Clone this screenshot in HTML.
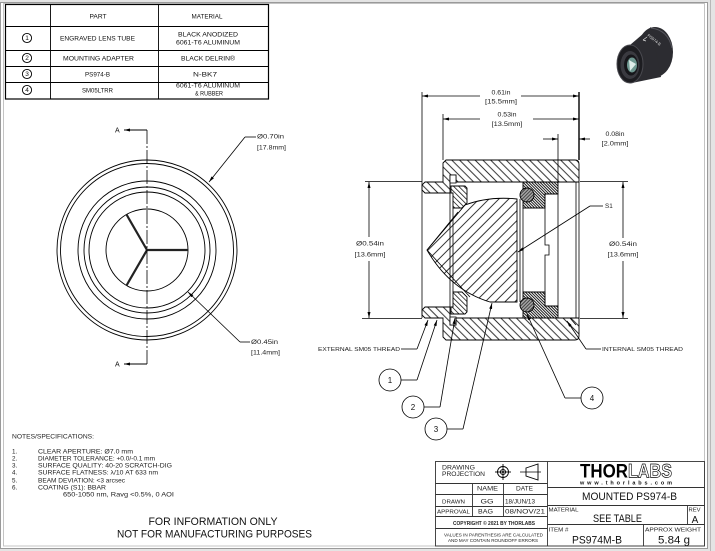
<!DOCTYPE html>
<html><head><meta charset="utf-8">
<style>html,body{margin:0;padding:0;background:#e4e4e4;}svg{display:block}</style></head>
<body>
<svg width="715" height="551" viewBox="0 0 715 551" xmlns="http://www.w3.org/2000/svg" font-family="'Liberation Sans', sans-serif">
<defs>
 <pattern id="hA" width="5.5" height="5.5" patternUnits="userSpaceOnUse" patternTransform="rotate(-45)"><line x1="2.75" y1="0" x2="2.75" y2="5.5" stroke="#000" stroke-width="0.8"/></pattern>
 <pattern id="hL" width="7" height="7" patternUnits="userSpaceOnUse" patternTransform="rotate(45)"><line x1="3.5" y1="0" x2="3.5" y2="7" stroke="#000" stroke-width="0.8"/></pattern>
 <pattern id="hP" width="3.6" height="3.6" patternUnits="userSpaceOnUse" patternTransform="rotate(-45)"><line x1="1.8" y1="0" x2="1.8" y2="3.6" stroke="#000" stroke-width="0.7"/></pattern>
 <pattern id="hR" width="2" height="2" patternUnits="userSpaceOnUse" patternTransform="rotate(-45)"><rect width="2" height="2" fill="#fff"/><line x1="1" y1="0" x2="1" y2="2" stroke="#000" stroke-width="0.9"/></pattern>
 <pattern id="hO" width="2.4" height="2.4" patternUnits="userSpaceOnUse" patternTransform="rotate(45)"><rect width="2.4" height="2.4" fill="#aaa"/><line x1="1.2" y1="0" x2="1.2" y2="2.4" stroke="#222" stroke-width="0.8"/></pattern>
 <marker id="ar" viewBox="0 0 8 4" refX="8" refY="2" markerWidth="7" markerHeight="3" markerUnits="userSpaceOnUse" orient="auto"><path d="M0,0 L8,2 L0,4 Z" fill="#000"/></marker>
</defs>

<!-- page frame -->
<rect x="0.5" y="2.5" width="707" height="546" fill="#fff" stroke="#9a9a9a"/>
<rect x="3.5" y="3.5" width="701" height="542.5" fill="none" stroke="#c4c4c4"/>
<line x1="710.5" y1="0" x2="710.5" y2="551" stroke="#b8b8b8"/>

<!-- parts table -->
<g fill="none" stroke="#000" stroke-width="0.9">
 <rect x="5.5" y="4.5" width="263" height="94.5" stroke-width="1.2"/>
 <line x1="50.5" y1="4.5" x2="50.5" y2="99"/>
 <line x1="158.5" y1="4.5" x2="158.5" y2="99"/>
 <line x1="5.5" y1="26.5" x2="268.5" y2="26.5"/>
 <line x1="5.5" y1="50.5" x2="268.5" y2="50.5"/>
 <line x1="5.5" y1="66.5" x2="268.5" y2="66.5"/>
 <line x1="5.5" y1="82.5" x2="268.5" y2="82.5"/>
 <circle cx="27" cy="38" r="4.6"/><circle cx="27" cy="58" r="4.6"/><circle cx="27" cy="74" r="4.6"/><circle cx="27" cy="90" r="4.6"/>
</g>
<g font-size="6" fill="#111" text-anchor="middle">
 <text x="27" y="40.2" font-size="6.5">1</text><text x="27" y="60.2" font-size="6.5">2</text><text x="27" y="76.2" font-size="6.5">3</text><text x="27" y="92.2" font-size="6.5">4</text>
 <text x="98" y="18.5" textLength="17" lengthAdjust="spacingAndGlyphs">PART</text>
 <text x="207" y="18.5" textLength="31" lengthAdjust="spacingAndGlyphs">MATERIAL</text>
 <text x="97.5" y="40.5" textLength="75" lengthAdjust="spacingAndGlyphs">ENGRAVED LENS TUBE</text>
 <text x="208" y="36.5" textLength="60" lengthAdjust="spacingAndGlyphs">BLACK ANODIZED</text>
 <text x="208" y="44.5" textLength="64" lengthAdjust="spacingAndGlyphs">6061-T6 ALUMINUM</text>
 <text x="98.5" y="60.5" textLength="71" lengthAdjust="spacingAndGlyphs">MOUNTING ADAPTER</text>
 <text x="208" y="60.5" textLength="54" lengthAdjust="spacingAndGlyphs">BLACK DELRIN®</text>
 <text x="97.5" y="76.5" textLength="25" lengthAdjust="spacingAndGlyphs">PS974-B</text>
 <text x="205" y="76.5" textLength="24" lengthAdjust="spacingAndGlyphs">N-BK7</text>
 <text x="97.5" y="92.5" textLength="31" lengthAdjust="spacingAndGlyphs">SM05LTRR</text>
 <text x="208" y="87.5" textLength="64" lengthAdjust="spacingAndGlyphs">6061-T6 ALUMINUM</text>
 <text x="209" y="95.5" textLength="28" lengthAdjust="spacingAndGlyphs">&amp; RUBBER</text>
</g>

<!-- product photo -->
<g>
 <ellipse cx="655" cy="52" rx="18" ry="25" fill="#2c2c31"/>
 <polygon points="630,45 651,27 661,77 632,83" fill="#2c2c31"/>
 <path d="M651,28 Q668,30 672,48" fill="none" stroke="#55555c" stroke-width="1"/>
 <ellipse cx="630" cy="64" rx="13" ry="19" fill="#1d1d21" stroke="#4a4a50" stroke-width="1"/>
 <ellipse cx="630" cy="65" rx="9.5" ry="14" fill="#3a3a40"/>
 <ellipse cx="631" cy="65" rx="7" ry="10.5" fill="#16161a"/>
 <ellipse cx="632" cy="65" rx="5" ry="7.5" fill="#6f9891"/>
 <polygon points="629,60 636,64 630,71" fill="#dfeeea"/>
 <text x="647" y="36" font-size="4" fill="#ddd" transform="rotate(38 647 36)">PS974-B</text>
 <path d="M643,40 l4,-3 M643,40 l3,1" stroke="#ddd" stroke-width="0.7" fill="none"/>
</g>

<!-- front view -->
<g fill="none" stroke="#000" stroke-width="0.9">
 <circle cx="147" cy="250" r="90"/>
 <circle cx="147" cy="250" r="86.5"/>
 <circle cx="147" cy="250" r="69"/>
 <circle cx="147" cy="250" r="63"/>
 <circle cx="147" cy="250" r="58"/>
 <circle cx="147" cy="250" r="41"/>
</g>
<g stroke="#222" stroke-width="2.2">
 <line x1="147" y1="250" x2="188" y2="250"/>
 <line x1="147" y1="250" x2="126.5" y2="214.5"/>
 <line x1="147" y1="250" x2="126.5" y2="285.5"/>
</g>
<line x1="147" y1="130" x2="147" y2="364" stroke="#000" stroke-width="0.8" stroke-dasharray="14,2,2,2"/>
<line x1="147" y1="130" x2="124" y2="130" stroke="#000" stroke-width="0.9" marker-end="url(#ar)"/>
<line x1="147" y1="364" x2="124" y2="364" stroke="#000" stroke-width="0.9" marker-end="url(#ar)"/>
<text x="115" y="132.5" font-size="7" fill="#111">A</text>
<text x="115" y="366.5" font-size="7" fill="#111">A</text>
<g stroke="#000" stroke-width="0.8" fill="none">
 <line x1="245" y1="137" x2="256" y2="137"/>
 <line x1="245" y1="137" x2="209" y2="182" marker-end="url(#ar)"/>
 <line x1="240" y1="342" x2="250" y2="342"/>
 <line x1="240" y1="342" x2="188" y2="292" marker-end="url(#ar)"/>
</g>
<g font-size="6.3" fill="#222">
 <text x="257" y="138.5" textLength="27" lengthAdjust="spacingAndGlyphs">Ø0.70in</text>
 <text x="257" y="149.5" textLength="29" lengthAdjust="spacingAndGlyphs">[17.8mm]</text>
 <text x="251" y="344" textLength="27" lengthAdjust="spacingAndGlyphs">Ø0.45in</text>
 <text x="251" y="354.5" textLength="29" lengthAdjust="spacingAndGlyphs">[11.4mm]</text>
</g>

<!-- section view: hatched parts -->
<g stroke="#000" stroke-width="0.9">
 <path fill="url(#hA)" d="M443,163 L446,160 L575,160 Q579,160 579,164 L579,182 L456,182 L456,175 L450,175 L450,193 L425,193 L422,190 L422,185 L425,182 L443,182 Z"/>
 <path fill="url(#hA)" d="M443,337 L446,340 L575,340 Q579,340 579,336 L579,318 L456,318 L456,325 L450,325 L450,307 L425,307 L422,310 L422,315 L425,318 L443,318 Z"/>
 <path fill="url(#hP)" d="M451,186 L465,186 L467,188 L467,203 L462,208 L453,208 L453,193 L451,193 Z"/>
 <path fill="url(#hP)" d="M451,314 L465,314 L467,312 L467,297 L462,292 L453,292 L453,307 L451,307 Z"/>
 <path fill="url(#hL)" d="M427,250 L465,205 Q489,196 517,199 L517,302 L490,302 Q450,290 427,250 Z"/>
 <path fill="url(#hR)" d="M523,182 L558,182 L558,194 L545,194 L545,208 L523,208 Z"/>
 <path fill="url(#hR)" d="M523,318 L558,318 L558,306 L545,306 L545,292 L523,292 Z"/>
 <circle cx="527" cy="195" r="7" fill="url(#hO)"/>
 <circle cx="527" cy="305" r="7" fill="url(#hO)"/>
</g>
<g stroke="#000" stroke-width="0.8" fill="none">
 <rect x="450" y="175" width="6" height="8" fill="#fff"/>
 <rect x="450" y="317" width="6" height="8" fill="#fff"/>
 <line x1="427" y1="250" x2="470" y2="297"/>
 <line x1="427" y1="250" x2="458" y2="212"/>
 <line x1="450" y1="193" x2="450" y2="307"/>
 <line x1="453" y1="208" x2="453" y2="292"/>
 <line x1="520" y1="199" x2="520" y2="302"/>
 <line x1="523" y1="208" x2="523" y2="292"/>
 <path d="M545,194 V245 H549 V255 H545 V306"/>
 <line x1="558" y1="194" x2="558" y2="306"/>
 <line x1="576" y1="182" x2="576" y2="318"/>
 <line x1="579" y1="182" x2="579" y2="318"/>
 <line x1="570" y1="318" x2="576" y2="325"/>
 <!-- extension lines -->
 <line x1="422" y1="92" x2="422" y2="318"/>
 <line x1="443" y1="114" x2="443" y2="160"/>
 <line x1="579" y1="92" x2="579" y2="160" stroke-width="1.4"/>
 <line x1="558" y1="134" x2="558" y2="182"/>
 <line x1="365" y1="181.5" x2="422" y2="181.5"/>
 <line x1="362" y1="318.5" x2="422" y2="318.5"/>
 <line x1="580" y1="181.5" x2="628" y2="181.5"/>
 <line x1="580" y1="318.5" x2="628" y2="318.5"/>
 <!-- dimension lines -->
 <line x1="480" y1="96" x2="422" y2="96" marker-end="url(#ar)"/>
 <line x1="521" y1="96" x2="579" y2="96" marker-end="url(#ar)"/>
 <line x1="480" y1="119" x2="443" y2="119" marker-end="url(#ar)"/>
 <line x1="533" y1="119" x2="579" y2="119" marker-end="url(#ar)"/>
 <line x1="543" y1="139" x2="558" y2="139" marker-end="url(#ar)"/>
 <line x1="590" y1="139" x2="579" y2="139" marker-end="url(#ar)"/>
 <line x1="369" y1="237" x2="369" y2="182" marker-end="url(#ar)"/>
 <line x1="369" y1="261" x2="369" y2="318" marker-end="url(#ar)"/>
 <line x1="623" y1="238" x2="623" y2="182" marker-end="url(#ar)"/>
 <line x1="623" y1="261" x2="623" y2="318" marker-end="url(#ar)"/>
 <!-- S1 leader -->
 <line x1="590" y1="206" x2="603" y2="206"/>
 <line x1="590" y1="206" x2="518" y2="252" marker-end="url(#ar)"/>
 <!-- thread leaders -->
 <line x1="401" y1="349" x2="417" y2="349"/>
 <line x1="417" y1="349" x2="428" y2="320" marker-end="url(#ar)"/>
 <line x1="586" y1="349" x2="601" y2="349"/>
 <line x1="586" y1="349" x2="567" y2="321" marker-end="url(#ar)"/>
 <!-- balloons -->
 <circle cx="390" cy="380" r="11"/>
 <line x1="401" y1="380" x2="417" y2="380"/>
 <line x1="417" y1="380" x2="437" y2="320" marker-end="url(#ar)"/>
 <circle cx="413" cy="407" r="11"/>
 <line x1="424" y1="407" x2="440" y2="407"/>
 <line x1="440" y1="407" x2="455" y2="318" marker-end="url(#ar)"/>
 <circle cx="436" cy="429" r="11"/>
 <line x1="447" y1="429" x2="463" y2="429"/>
 <line x1="463" y1="429" x2="492" y2="303" marker-end="url(#ar)"/>
 <circle cx="592" cy="398" r="11"/>
 <line x1="581" y1="398" x2="565" y2="398"/>
 <line x1="565" y1="398" x2="527" y2="314" marker-end="url(#ar)"/>
</g>
<g font-size="6.3" fill="#222" text-anchor="middle">
 <text x="501" y="94.5" textLength="19" lengthAdjust="spacingAndGlyphs">0.61in</text>
 <text x="501" y="103.5" textLength="32" lengthAdjust="spacingAndGlyphs">[15.5mm]</text>
 <text x="507" y="116.5" textLength="19" lengthAdjust="spacingAndGlyphs">0.53in</text>
 <text x="507" y="126" textLength="31" lengthAdjust="spacingAndGlyphs">[13.5mm]</text>
 <text x="615" y="136" textLength="19" lengthAdjust="spacingAndGlyphs">0.08in</text>
 <text x="615" y="145.5" textLength="27" lengthAdjust="spacingAndGlyphs">[2.0mm]</text>
 <text x="370" y="245.5" textLength="28" lengthAdjust="spacingAndGlyphs">Ø0.54in</text>
 <text x="370" y="256.5" textLength="31" lengthAdjust="spacingAndGlyphs">[13.6mm]</text>
 <text x="623" y="246" textLength="28" lengthAdjust="spacingAndGlyphs">Ø0.54in</text>
 <text x="623" y="256.5" textLength="31" lengthAdjust="spacingAndGlyphs">[13.6mm]</text>
</g>
<text x="605" y="208.2" font-size="6.3" fill="#222">S1</text>
<g font-size="5.6" fill="#222">
 <text x="318" y="351" textLength="82" lengthAdjust="spacingAndGlyphs">EXTERNAL SM05 THREAD</text>
 <text x="602" y="351" textLength="81" lengthAdjust="spacingAndGlyphs">INTERNAL SM05 THREAD</text>
</g>
<g font-size="8" fill="#111" text-anchor="middle">
 <text x="390" y="383">1</text><text x="413" y="410">2</text><text x="436" y="432">3</text><text x="592" y="401">4</text>
</g>

<!-- notes -->
<g font-size="6.3" fill="#222">
 <text x="12" y="438.5" textLength="82" lengthAdjust="spacingAndGlyphs">NOTES/SPECIFICATIONS:</text>
 <text x="12" y="453.5">1.</text><text x="38" y="453.5" textLength="95" lengthAdjust="spacingAndGlyphs">CLEAR APERTURE: Ø7.0 mm</text>
 <text x="12" y="460.5">2.</text><text x="38" y="460.5" textLength="117" lengthAdjust="spacingAndGlyphs">DIAMETER TOLERANCE: +0.0/-0.1 mm</text>
 <text x="12" y="467.5">3.</text><text x="38" y="467.5" textLength="134" lengthAdjust="spacingAndGlyphs">SURFACE QUALITY: 40-20 SCRATCH-DIG</text>
 <text x="12" y="474.5">4.</text><text x="38" y="474.5" textLength="120" lengthAdjust="spacingAndGlyphs">SURFACE FLATNESS: λ/10 AT 633 nm</text>
 <text x="12" y="482.5">5.</text><text x="38" y="482.5" textLength="87" lengthAdjust="spacingAndGlyphs">BEAM DEVIATION: &lt;3 arcsec</text>
 <text x="12" y="489.5">6.</text><text x="38" y="489.5" textLength="68" lengthAdjust="spacingAndGlyphs">COATING (S1): BBAR</text>
 <text x="63" y="496.5" textLength="111" lengthAdjust="spacingAndGlyphs">650-1050 nm, Ravg &lt;0.5%, 0 AOI</text>
</g>
<g font-size="11" fill="#111" text-anchor="middle">
 <text x="213" y="525" textLength="129" lengthAdjust="spacingAndGlyphs">FOR INFORMATION ONLY</text>
 <text x="214.5" y="537.5" textLength="195" lengthAdjust="spacingAndGlyphs">NOT FOR MANUFACTURING PURPOSES</text>
</g>

<!-- title block -->
<g fill="none" stroke="#333" stroke-width="0.9">
 <rect x="435.5" y="461.5" width="269" height="84.5"/>
 <line x1="547.5" y1="461.5" x2="547.5" y2="546"/>
 <line x1="435.5" y1="483.5" x2="547.5" y2="483.5"/>
 <line x1="435.5" y1="494.5" x2="547.5" y2="494.5"/>
 <line x1="435.5" y1="506.5" x2="547.5" y2="506.5"/>
 <line x1="435.5" y1="516.5" x2="547.5" y2="516.5"/>
 <line x1="435.5" y1="528.5" x2="547.5" y2="528.5"/>
 <line x1="472.5" y1="483.5" x2="472.5" y2="516.5"/>
 <line x1="503.5" y1="483.5" x2="503.5" y2="516.5"/>
 <line x1="547.5" y1="487.5" x2="704.5" y2="487.5"/>
 <line x1="547.5" y1="505.5" x2="704.5" y2="505.5"/>
 <line x1="547.5" y1="524.5" x2="704.5" y2="524.5"/>
 <line x1="687.5" y1="505.5" x2="687.5" y2="524.5"/>
 <line x1="643.5" y1="524.5" x2="643.5" y2="546"/>
 <!-- projection symbol -->
 <circle cx="503" cy="472" r="5.5" stroke="#000"/>
 <circle cx="503" cy="472" r="2.6" stroke="#000"/>
 <line x1="495" y1="472" x2="511" y2="472" stroke="#000"/>
 <line x1="503" y1="464" x2="503" y2="480" stroke="#000"/>
 <path d="M526,468 L538,464 L538,480 L526,476 Z" stroke="#000"/>
 <line x1="520" y1="472" x2="541" y2="472" stroke="#000" stroke-width="0.7"/>
</g>
<circle cx="503" cy="472" r="1" fill="#000"/>
<g font-size="6" fill="#222">
 <text x="442" y="469.5" textLength="33" lengthAdjust="spacingAndGlyphs">DRAWING</text>
 <text x="442" y="475.8" textLength="43" lengthAdjust="spacingAndGlyphs">PROJECTION</text>
 <text x="487.5" y="490.5" text-anchor="middle" textLength="21" lengthAdjust="spacingAndGlyphs">NAME</text>
 <text x="524.5" y="490.5" text-anchor="middle" textLength="17" lengthAdjust="spacingAndGlyphs">DATE</text>
 <text x="453.5" y="503.5" text-anchor="middle" textLength="23" lengthAdjust="spacingAndGlyphs" font-size="5.5">DRAWN</text>
 <text x="487" y="503.5" text-anchor="middle" textLength="13" lengthAdjust="spacingAndGlyphs">GG</text>
 <text x="520" y="503.5" text-anchor="middle" textLength="30" lengthAdjust="spacingAndGlyphs">18/JUN/13</text>
 <text x="453.5" y="513.5" text-anchor="middle" textLength="33" lengthAdjust="spacingAndGlyphs" font-size="5.5">APPROVAL</text>
 <text x="485.5" y="513.5" text-anchor="middle" textLength="15" lengthAdjust="spacingAndGlyphs">BAG</text>
 <text x="525" y="513.5" text-anchor="middle" textLength="40" lengthAdjust="spacingAndGlyphs">08/NOV/21</text>
 <text x="494" y="524.8" text-anchor="middle" textLength="82" lengthAdjust="spacingAndGlyphs" font-size="5" font-weight="bold">COPYRIGHT © 2021 BY THORLABS</text>
 <text x="493.5" y="536.5" text-anchor="middle" textLength="99" lengthAdjust="spacingAndGlyphs" font-size="4.8">VALUES IN PARENTHESIS ARE CALCULATED</text>
 <text x="493" y="542" text-anchor="middle" textLength="90" lengthAdjust="spacingAndGlyphs" font-size="4.8">AND MAY CONTAIN ROUNDOFF ERRORS</text>
 <text x="548.5" y="511.5" textLength="30" lengthAdjust="spacingAndGlyphs" font-size="5.5">MATERIAL</text>
 <text x="688.5" y="511.5" textLength="12" lengthAdjust="spacingAndGlyphs" font-size="5.5">REV</text>
 <text x="548.5" y="531.5" textLength="20" lengthAdjust="spacingAndGlyphs" font-size="5.5">ITEM #</text>
 <text x="645" y="531.5" textLength="56" lengthAdjust="spacingAndGlyphs" font-size="5.5">APPROX WEIGHT</text>
</g>
<g font-size="11" fill="#111" text-anchor="middle">
 <text x="629.5" y="500" textLength="95" lengthAdjust="spacingAndGlyphs">MOUNTED PS974-B</text>
 <text x="617.5" y="522" textLength="49" lengthAdjust="spacingAndGlyphs">SEE TABLE</text>
 <text x="695" y="523" font-size="10">A</text>
 <text x="597" y="543.5" textLength="50" lengthAdjust="spacingAndGlyphs">PS974M-B</text>
 <text x="674" y="543.5" textLength="32" lengthAdjust="spacingAndGlyphs">5.84 g</text>
</g>
<!-- THORLABS logo -->
<text x="580" y="477.5" font-size="19" font-weight="bold" fill="#000" textLength="48" lengthAdjust="spacingAndGlyphs">THOR</text>
<text x="628" y="477.5" font-size="19" font-weight="bold" fill="#fff" stroke="#000" stroke-width="0.7" textLength="44" lengthAdjust="spacingAndGlyphs">LABS</text>
<text x="626" y="484.5" font-size="5.5" font-weight="bold" fill="#111" text-anchor="middle" textLength="92" lengthAdjust="spacing">www.thorlabs.com</text>
</svg>
</body></html>
